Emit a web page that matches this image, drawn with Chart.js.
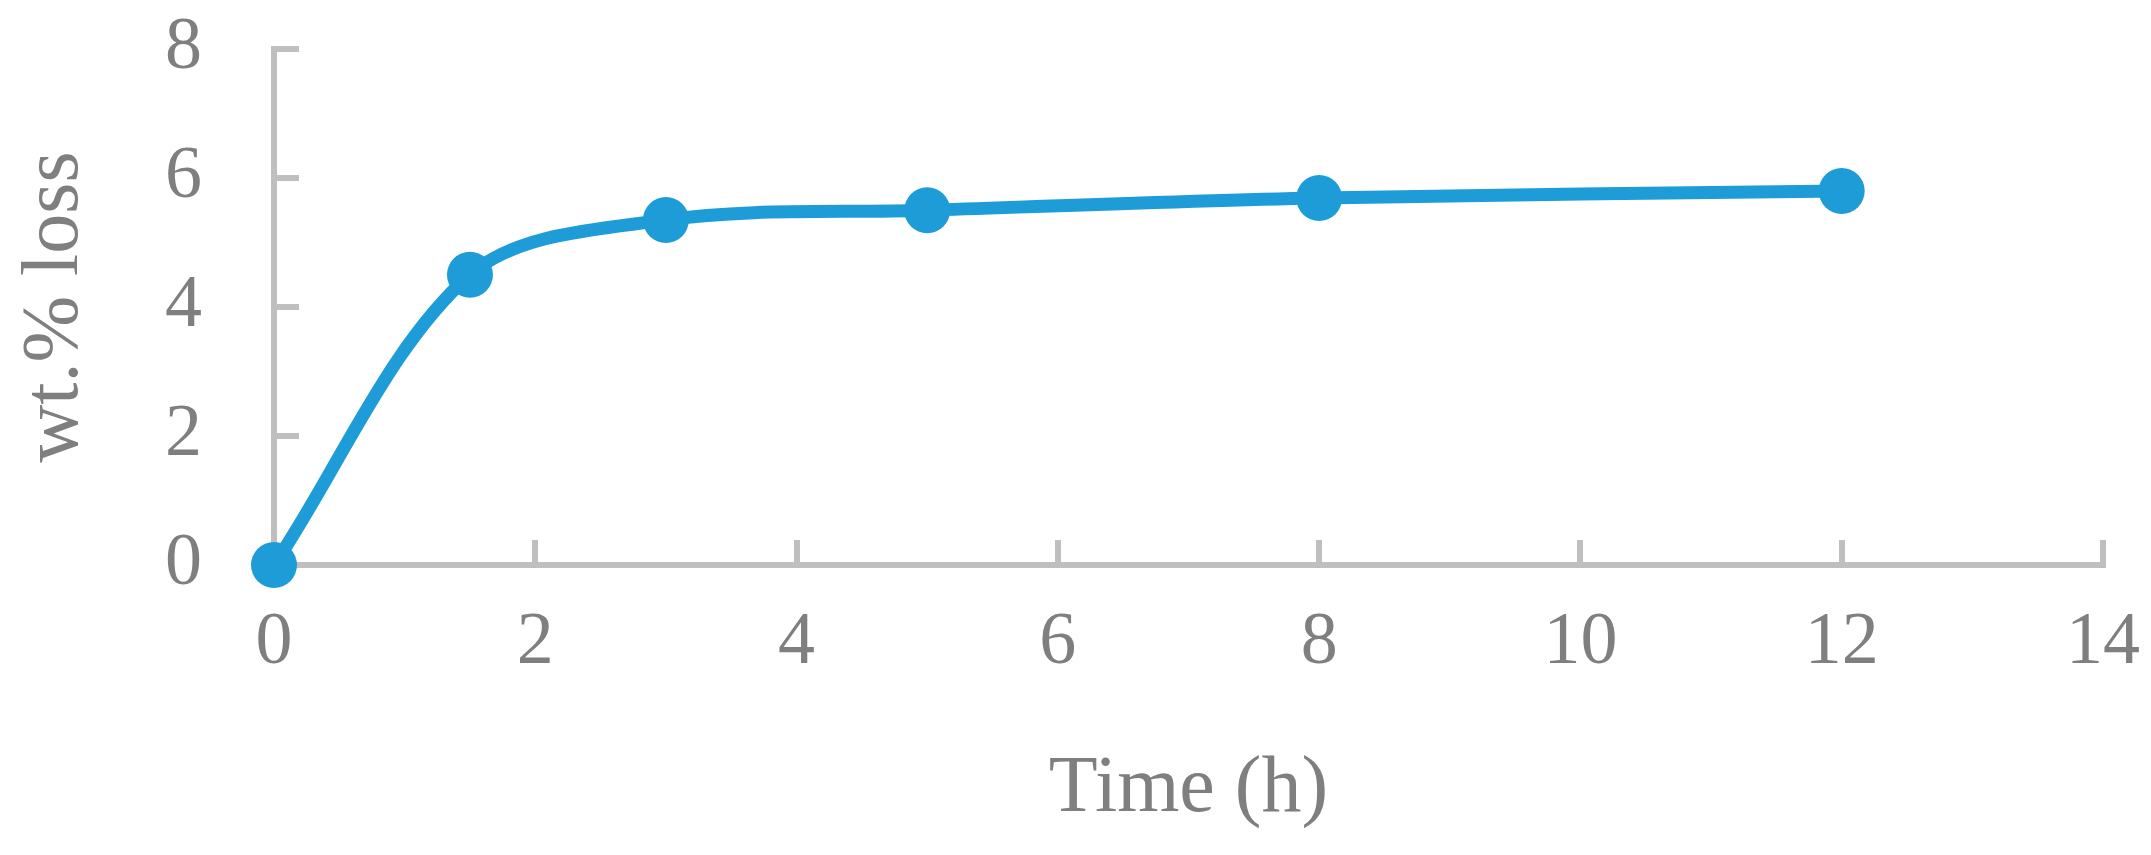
<!DOCTYPE html>
<html>
<head>
<meta charset="utf-8">
<title>wt.% loss vs time</title>
<script src="https://cdn.jsdelivr.net/npm/chart.js@4.4.0/dist/chart.umd.min.js"></script>
<style>
  html, body { margin: 0; padding: 0; background: #ffffff; }
  #wrap { width: 2151px; height: 855px; }
</style>
</head>
<body>
<div id="wrap"><canvas id="lossChart" width="2151" height="855"></canvas></div>
<script>
// dados
var timeH = [0, 1.5, 3, 5, 8, 12];
var lossPct = [0, 4.5, 5.35, 5.5, 5.69, 5.8];

var xMin = 0, xMax = 14, xStep = 2;
var yMin = 0, yMax = 8, yStep = 2;

var xTitle = 'Time (h)';
var yTitle = 'wt.% loss';

var textColor = '#7f7f7f';
var axisColor = '#bfbfbf';
var lineColor = '#1e9cd8';
var fontFamily = '"Liberation Serif", "DejaVu Serif", serif';

var points = timeH.map(function (t, i) {
  return { x: t, y: lossPct[i] };
});

document.addEventListener('DOMContentLoaded', function () {
  var ctx = document.getElementById('lossChart');

  var lossChart = new Chart(ctx, {
    type: 'line',
    data: {
      datasets: [{
        data: points,
        borderColor: lineColor,
        backgroundColor: lineColor,
        borderWidth: 13,
        pointRadius: 23,
        pointBorderWidth: 0,
        pointBackgroundColor: lineColor,
        tension: 0.33,
        fill: false,
        clip: false
      }]
    },
    options: {
      responsive: false,
      animation: false,
      devicePixelRatio: 1,
      layout: { padding: { top: 49, right: 48, bottom: 0, left: 0 } },
      plugins: {
        legend: { display: false },
        tooltip: { enabled: false }
      },
      scales: {
        x: {
          type: 'linear',
          min: xMin,
          max: xMax,
          afterFit: function (scale) {
            // altura fixa e sem padding extra das labels
            scale.height = 290;
            scale.paddingLeft = 0;
            scale.paddingRight = 0;
          },
          ticks: {
            stepSize: xStep,
            color: textColor,
            padding: 59,
            maxRotation: 0,
            font: { family: fontFamily, size: 74 }
          },
          grid: {
            drawOnChartArea: false,
            tickLength: -25,
            lineWidth: 6,
            color: axisColor
          },
          border: { color: axisColor, width: 6 },
          title: {
            display: true,
            text: xTitle,
            color: textColor,
            padding: { top: 0, bottom: 17 },
            font: { family: fontFamily, size: 80 }
          }
        },
        y: {
          type: 'linear',
          min: yMin,
          max: yMax,
          afterFit: function (scale) {
            scale.width = 274;
            scale.paddingTop = 0;
            scale.paddingBottom = 0;
          },
          ticks: {
            stepSize: yStep,
            color: textColor,
            padding: 97,
            font: { family: fontFamily, size: 74 }
          },
          grid: {
            drawOnChartArea: false,
            tickLength: -25,
            lineWidth: 6,
            color: axisColor
          },
          border: { color: axisColor, width: 6 },
          title: {
            display: true,
            text: yTitle,
            color: textColor,
            padding: { top: 8, bottom: 0 },
            font: { family: fontFamily, size: 80 }
          }
        }
      }
    }
  });
});
</script>
</body>
</html>
